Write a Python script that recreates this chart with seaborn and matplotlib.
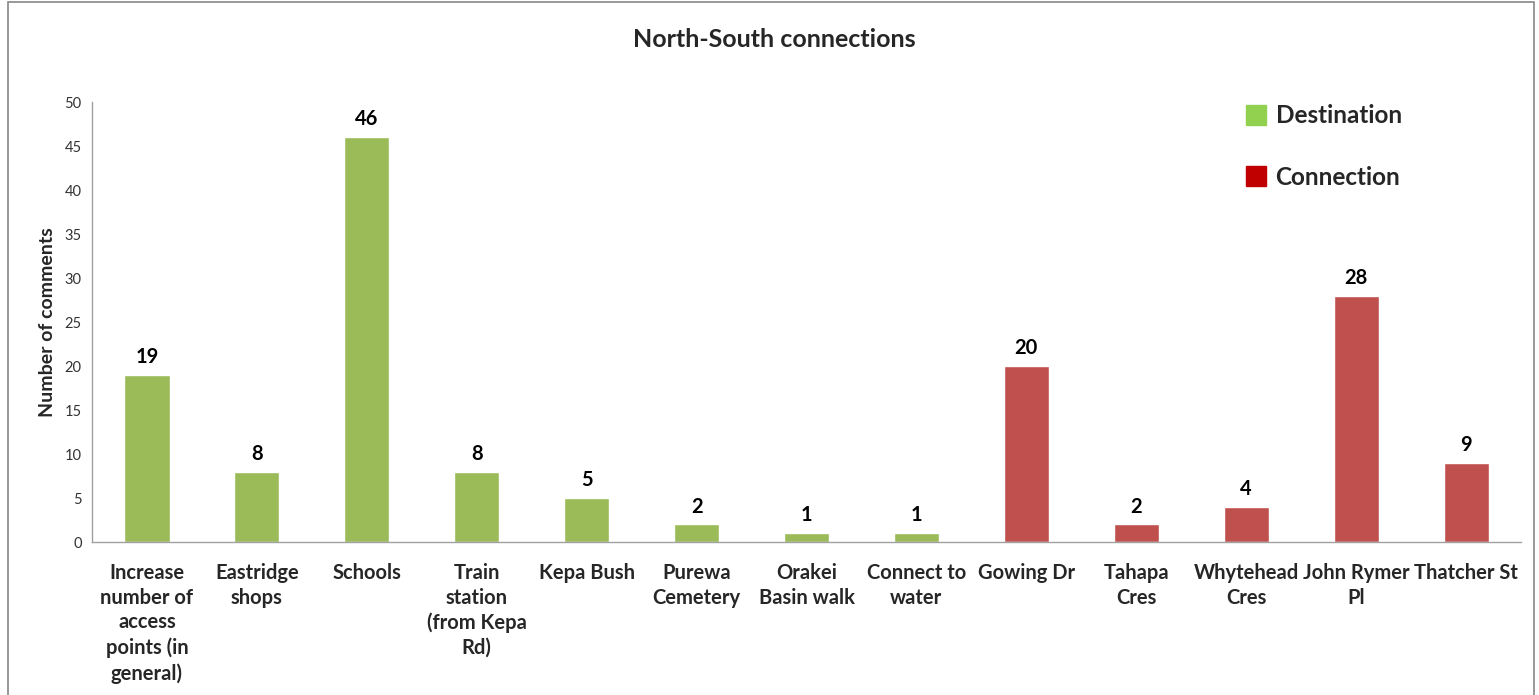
import numpy as np
import pandas as pd
import matplotlib
matplotlib.use('Agg')
import matplotlib.pyplot as plt
import seaborn as sns
from matplotlib.patches import Rectangle
from matplotlib.lines import Line2D

# ─── Data ─────────────────────────────────────────────────────────────────────
categories = [
    'Increase\nnumber of\naccess\npoints (in\ngeneral)',
    'Eastridge\nshops',
    'Schools',
    'Train\nstation\n(from Kepa\nRd)',
    'Kepa Bush',
    'Purewa\nCemetery',
    'Orakei\nBasin walk',
    'Connect to\nwater',
    'Gowing Dr',
    'Tahapa\nCres',
    'Whytehead\nCres',
    'John Rymer\nPl',
    'Thatcher St',
]
counts = [19, 8, 46, 8, 5, 2, 1, 1, 20, 2, 4, 28, 9]
groups = ['Destination'] * 8 + ['Connection'] * 5

bar_colors    = {'Destination': '#9BBB59', 'Connection': '#C0504D'}
legend_colors = {'Destination': '#92D050', 'Connection': '#C00000'}

df = pd.DataFrame({'category': categories, 'count': counts, 'group': groups})

# ─── Figure ───────────────────────────────────────────────────────────────────
sns.set_style('white')
plt.rcParams['font.family'] = ['Lato', 'DejaVu Sans']

fig = plt.figure(figsize=(15.39, 6.95), dpi=100)
ax = fig.add_axes([0.0598, 0.2201, 0.9285, 0.6331])

sns.barplot(data=df, x='category', y='count', hue='group',
            palette=bar_colors, dodge=False, width=0.41,
            legend=False, ax=ax, saturation=1)

# value labels
for i, v in enumerate(counts):
    ax.text(i, v + 0.9, str(v), ha='center', va='bottom',
            fontsize=14.5, fontweight='bold', color='black')

ax.set_xlim(-0.5, len(categories) - 0.5)
ax.set_ylim(0, 50)
ax.set_yticks(np.arange(0, 51, 5))
ax.set_xlabel('')
ax.set_ylabel('Number of comments', fontsize=14, fontweight='bold', labelpad=6)

# Excel-style tick marks between categories
ax.set_xticks(np.arange(len(categories)))
ax.set_xticklabels(categories, fontsize=14.5, fontweight='bold',
                   linespacing=1.3, va='top')
ax.set_xticks(np.arange(-0.5, len(categories)), minor=True)
ax.tick_params(axis='x', which='major', length=0, pad=15)
ax.tick_params(axis='x', which='minor', length=5, color='#A0A0A0', width=1,
               direction='out')
ax.tick_params(axis='y', length=4.5, color='#A0A0A0', width=1, direction='out',
               labelsize=10.5, labelcolor='#333333', pad=3)

for side in ['top', 'right']:
    ax.spines[side].set_visible(False)
for side in ['left', 'bottom']:
    ax.spines[side].set_color('#A0A0A0')
    ax.spines[side].set_linewidth(1)

# legend
handles = [Line2D([], [], marker='s', linestyle='', markersize=15,
                  markerfacecolor=legend_colors[g], markeredgecolor=legend_colors[g])
           for g in ['Destination', 'Connection']]
leg = ax.legend(handles, ['Destination', 'Connection'], loc='upper left',
                bbox_to_anchor=(0.79, 1.045), frameon=False,
                prop={'size': 17.5, 'weight': 'bold'}, labelspacing=1.6,
                handletextpad=0.25, handlelength=1.1)

fig.suptitle('North-South connections', x=0.503, y=0.96,
             fontsize=18, fontweight='bold')

# outer chart border
fig.patches.append(Rectangle((0.005, -0.01), 0.992, 1.007, transform=fig.transFigure,
                             fill=False, edgecolor='#888888', linewidth=1.2))

fig.savefig('out.png', dpi=100)
